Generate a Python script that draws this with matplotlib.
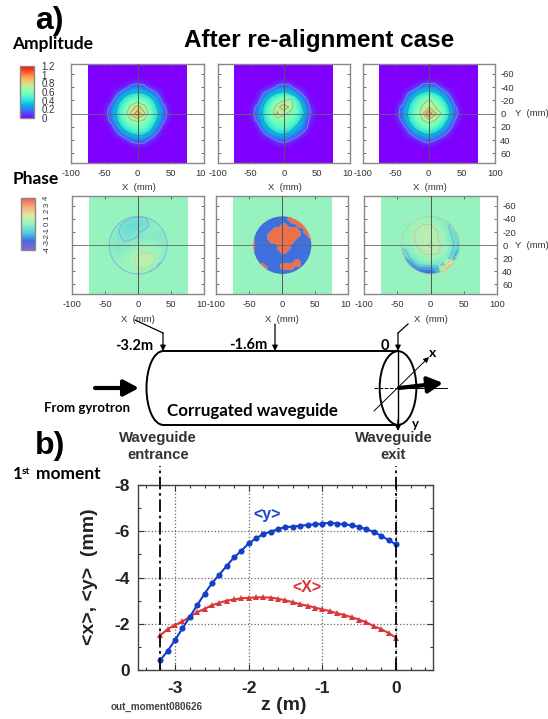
import numpy as np
import matplotlib
matplotlib.use("Agg")
import matplotlib.pyplot as plt
from matplotlib.colors import LinearSegmentedColormap
from matplotlib.patches import Arc, Circle, Ellipse, Rectangle
from matplotlib.transforms import ScaledTranslation

plt.rcParams["axes.unicode_minus"] = False

W, H = 548, 719

# bottom plot: first moments along the waveguide
z = [-3.2, -3.1, -3.0, -2.9, -2.8, -2.7, -2.6, -2.5, -2.4, -2.3, -2.2, -2.1, -2.0, -1.9, -1.8, -1.7, -1.6,
     -1.5, -1.4, -1.3, -1.2, -1.1, -1.0, -0.9, -0.8, -0.7, -0.6, -0.5, -0.4, -0.3, -0.2, -0.1, 0.0]
mom_y = [-0.43, -0.83, -1.3, -1.8, -2.3, -2.8, -3.3, -3.75, -4.12, -4.5, -4.87, -5.15, -5.48, -5.69, -5.88, -5.98, -6.1,
         -6.18, -6.2, -6.24, -6.27, -6.3, -6.33, -6.37, -6.33, -6.3, -6.25, -6.2, -6.08, -5.98, -5.8, -5.62, -5.43]
mom_x = [-1.5, -1.77, -1.95, -2.1, -2.3, -2.5, -2.64, -2.8, -2.9, -3.0, -3.05, -3.1, -3.12, -3.14, -3.14, -3.13, -3.08,
         -3.01, -2.93, -2.84, -2.78, -2.7, -2.62, -2.55, -2.45, -2.38, -2.28, -2.18, -2.06, -1.89, -1.77, -1.6, -1.4]

# amplitude maps, rows y=-50..50, columns x=-50..50 (mm)
grid_xy = [-50, -40, -30, -20, -10, 0, 10, 20, 30, 40, 50]
amp1 = [[0, 0, 0, 0, 0, 0, 0, 0, 0, 0, 0],
        [0, 0, 0, 0, .15, .2, .15, 0, 0, 0, 0],
        [0, 0, .1, .3, .38, .42, .38, .3, .1, 0, 0],
        [0, 0, .3, .45, .57, .6, .57, .45, .28, 0, 0],
        [0, .15, .38, .55, .7, .8, .7, .55, .36, .13, 0],
        [0, .2, .42, .58, .78, .98, .78, .58, .42, .18, 0],
        [0, .15, .38, .55, .65, .68, .65, .55, .36, .12, 0],
        [0, 0, .28, .45, .55, .58, .58, .45, .25, 0, 0],
        [0, 0, .08, .28, .38, .45, .42, .3, .08, 0, 0],
        [0, 0, 0, 0, .14, .2, .18, .05, 0, 0, 0],
        [0, 0, 0, 0, 0, 0, 0, 0, 0, 0, 0]]
amp2 = [[0, 0, 0, 0, 0, 0, 0, 0, 0, 0, 0],
        [0, 0, 0, 0, .14, .2, .14, 0, 0, 0, 0],
        [0, 0, .12, .3, .4, .45, .38, .25, .05, 0, 0],
        [0, 0, .3, .47, .58, .65, .72, .48, .22, 0, 0],
        [0, .15, .4, .56, .72, .85, .72, .56, .34, .08, 0],
        [0, .2, .42, .58, .78, .68, .62, .56, .4, .1, 0],
        [0, .14, .38, .54, .6, .6, .58, .52, .24, .06, 0],
        [0, 0, .28, .44, .52, .55, .5, .32, .25, 0, 0],
        [0, 0, .08, .26, .38, .4, .32, .22, .05, 0, 0],
        [0, 0, 0, 0, .12, .16, .1, 0, 0, 0, 0],
        [0, 0, 0, 0, 0, 0, 0, 0, 0, 0, 0]]
amp3 = [[0, 0, 0, 0, 0, 0, 0, 0, 0, 0, 0],
        [0, 0, 0, .02, .18, .25, .2, .03, 0, 0, 0],
        [0, 0, .12, .32, .42, .46, .42, .3, .1, 0, 0],
        [0, 0, .3, .47, .58, .68, .62, .48, .28, 0, 0],
        [0, .15, .38, .55, .68, .74, .66, .6, .38, .12, 0],
        [0, .2, .42, .58, .7, 1.02, .78, .65, .42, .18, 0],
        [0, .14, .38, .55, .65, .72, .66, .55, .34, .1, 0],
        [0, 0, .26, .44, .56, .58, .54, .42, .22, 0, 0],
        [0, 0, .06, .26, .36, .42, .36, .22, .05, 0, 0],
        [0, 0, 0, 0, .12, .17, .1, 0, 0, 0, 0],
        [0, 0, 0, 0, 0, 0, 0, 0, 0, 0, 0]]

# phase maps
ph1 = [[0, 0, 0, 0, 0, 0, 0, 0, 0, 0, 0],
       [0, 0, 0, -.1, -.5, -.6, -.6, -.1, 0, 0, 0],
       [0, 0, -.2, -.9, -1, -1, -.9, -.2, -.2, 0, 0],
       [0, -.1, -.4, -.9, -.8, -.5, -.2, -.1, -.3, -.2, 0],
       [0, -.2, -.4, -.5, -.5, -.4, -.3, -.4, -.4, -.3, 0],
       [0, -.3, -.4, -.4, -.1, 0, .1, .1, -.1, -.3, 0],
       [0, -.2, -.4, -.2, .1, .4, .5, .4, .1, -.3, 0],
       [0, 0, -.1, .1, .3, .7, .9, .8, .3, -.3, 0],
       [0, 0, 0, .1, .3, .7, .9, .6, -.5, -.8, 0],
       [0, 0, 0, 0, .1, .3, .3, -.6, -.3, 0, 0],
       [0, 0, 0, 0, 0, 0, 0, 0, 0, 0, 0]]
ph3 = [[0, 0, 0, 0, 0, 0, 0, 0, 0, 0, 0],
       [0, 0, 0, 0, .2, 0, -.5, -.3, 0, 0, 0],
       [0, 0, 0, .3, .5, .5, .2, -.3, -.7, -.9, 0],
       [0, 0, .2, .6, .7, .7, .5, .1, -.6, -1, -1],
       [0, 0, .2, .6, .7, .6, .5, .2, -.4, -1, -1.2],
       [0, .1, .1, .5, .7, .3, .7, .2, -.3, -.9, -1.3],
       [-1, -1, -.1, .2, .6, .7, .6, .2, -.2, -1.5, -2],
       [-2, -1.5, -.4, -.1, .1, .2, .1, -.2, -.8, -2.5, 3],
       [-3, -3, -2.5, -.6, -.2, -.2, -.4, -.8, 3, 3.5, 3.5],
       [-3, -3, -3, -3, -3, -3, -2.5, 3, 3.5, 3.5, 3.5],
       [-3, -3, -3, -3, -3, -3, -3, 3, 3.5, 3.5, 3.5]]

# middle phase map is two-valued (blue / orange), rows y=-45..45, columns x=-45..45
grid_fine = list(range(-45, 50, 5))
ph2_rows = ["...................",
            "...........###.....",
            "............####...",
            ".........##...###..",
            ".......#######..##.",
            "......#########.##.",
            ".....##########..##",
            "#....#########....#",
            "#.....#######......",
            "#.......####.......",
            "#.......####.......",
            "#........##........",
            "...................",
            "...................",
            ".............##....",
            "..##.....######....",
            "...##....####......",
            "...................",
            "..................."]
ph2 = [[3 if c == "#" else -3 for c in row] for row in ph2_rows]

amp_ticks = [0, 0.2, 0.4, 0.6, 0.8, 1, 1.2]
amp_labels = ["0", "0.2", "0.4", "0.6", "0.8", "1", "1.2"]
ph_ticks = [-4, -3, -2, -1, 0, 1, 2, 3, 4]
x_labels_cut = ["-100", "-50", "0", "50", "10"]
x_labels_full = ["-100", "-50", "0", "50", "100"]

phase_cmap = LinearSegmentedColormap.from_list(
    "phase", ["#8a62d8", "#3f6fe0", "#55cfe0", "#95f3bf", "#dceba0", "#f8a878", "#ee6048"])
ORANGE = "#ee7048"
BLUE = "#3f70dd"
sans = ["Liberation Sans", "DejaVu Sans"]
lato = ["Lato", "DejaVu Sans"]

fig = plt.figure(figsize=(W / 100, H / 100), dpi=100)


def axes_px(left, top, right, bottom):
    return fig.add_axes([left / W, 1 - bottom / H, (right - left) / W, (bottom - top) / H])


def style_panel(ax, labels, right_labels=False):
    ax.set_xlim(-100, 100)
    ax.set_ylim(75, -75)
    ax.set_xticks([-100, -50, 0, 50, 100], labels)
    ax.set_yticks([-60, -40, -20, 0, 20, 40, 60])
    ax.tick_params(direction="in", length=2.5, width=0.6, color="#555555", top=True, right=True,
                   labelleft=False, labelright=right_labels, labelsize=6.8, labelcolor="#333333", pad=4)
    for lab in ax.get_xticklabels() + ax.get_yticklabels():
        lab.set_family(sans)
    # the last label is cut off by the next panel in the original
    if labels[-1] == "10":
        last = ax.get_xticklabels()[-1]
        last.set_ha("right")
        last.set_transform(last.get_transform() + ScaledTranslation(0.025, 0, fig.dpi_scale_trans))
    for sp in ax.spines.values():
        sp.set_color("#888888")
        sp.set_linewidth(1.0)
    ax.axhline(0, color="#666666", lw=0.6, zorder=5)
    ax.axvline(0, color="#555555", lw=0.7, zorder=5)


# amplitude row
amp_boxes = [(71.3, 64, 203.7, 163.3), (217.7, 64, 350, 163.3), (362.7, 64, 494.7, 163.3)]
amp_labels_x = [x_labels_cut, x_labels_cut, x_labels_full]
im_amp = None
for box, data, labs, i in zip(amp_boxes, [amp1, amp2, amp3], amp_labels_x, range(3)):
    ax = axes_px(*box)
    ax.add_patch(Rectangle((-75, -75), 150, 150, color=plt.cm.rainbow(0.0), lw=0, zorder=0))
    im_amp = ax.imshow(data, cmap="rainbow", vmin=0, vmax=1.2, extent=(-55, 55, 55, -55),
                       interpolation="bicubic", zorder=1)
    ax.contour(grid_xy, grid_xy, data, levels=[0.1, 0.36, 0.66, 0.76, 0.9],
               colors=["#9088c8", "#2f8f95", "#a8a890", "#b09070", "#b07040"], linewidths=0.6, zorder=2)
    ax.set_aspect("auto")
    style_panel(ax, labs, right_labels=(i == 2))

# phase row
ph_boxes = [(72.3, 196, 204, 294.3), (216.3, 196, 348.3, 294.3), (364.3, 196, 496.7, 294.3)]
for i, box in enumerate(ph_boxes):
    ax = axes_px(*box)
    ax.add_patch(Rectangle((-75, -75), 150, 150, color=phase_cmap(0.5), lw=0, zorder=0))
    disc = Circle((0, 0), 44, transform=ax.transData)
    if i == 1:
        art = ax.contourf(grid_fine, grid_fine, ph2, levels=[-5, 0, 5], colors=[BLUE, ORANGE], zorder=1)
        art.set_clip_path(disc)
        ax.contour(grid_fine, grid_fine, ph2, levels=[0], colors=["#6f93d8"], linewidths=0.4, zorder=2).set_clip_path(disc)
    else:
        data = ph1 if i == 0 else ph3
        im = ax.imshow(data, cmap=phase_cmap, vmin=-4, vmax=4, extent=(-55, 55, 55, -55),
                       interpolation="bicubic", zorder=1)
        im.set_clip_path(disc)
        if i == 0:
            cs = ax.contour(grid_xy, grid_xy, data, levels=[-0.45, 0.5], colors=["#7fa8e0", "#b0e098"],
                            linewidths=0.6, zorder=2)
            edge = "#7fa8e0"
        else:
            cs = ax.contour(grid_xy, grid_xy, data, levels=[-1.5, -0.6, 0.45], colors=["#4a88c8", "#60b0b8", "#d0b888"],
                            linewidths=0.5, zorder=2)
            edge = "#c0c8a8"
        cs.set_clip_path(disc)
        ax.add_patch(Circle((0, 0), 44, fill=False, ec=edge, lw=0.6, zorder=3))
    ax.set_aspect("auto")
    style_panel(ax, x_labels_cut if i < 2 else x_labels_full, right_labels=(i == 2))

# colour bars
cax = axes_px(19.5, 66, 34.5, 118)
cb = fig.colorbar(im_amp, cax=cax, ticks=amp_ticks)
cb.ax.set_yticklabels(amp_labels, family=sans, fontsize=7, color="#333333")
cb.ax.tick_params(length=0, pad=5)
cb.outline.set_edgecolor("#888888")
cb.outline.set_linewidth(1.0)

cax2 = axes_px(20.5, 198, 35, 249.5)
sm = plt.cm.ScalarMappable(norm=plt.Normalize(-4, 4), cmap=phase_cmap)
cb2 = fig.colorbar(sm, cax=cax2, ticks=ph_ticks)
cb2.ax.set_yticklabels([str(t) for t in ph_ticks], family=sans, fontsize=5.6, color="#333333", rotation=90, va="center")
cb2.ax.tick_params(length=0, pad=6)
cb2.outline.set_edgecolor("#888888")
cb2.outline.set_linewidth(1.0)

# moment plot
ax = axes_px(138.3, 485, 432.7, 670)
ax.set_xlim(-3.5, 0.5)
ax.set_ylim(0, -8)
ax.set_xticks([-3, -2, -1, 0], ["-3", "-2", "-1", "0"])
ax.set_xticks(np.arange(-3.4, 0.5, 0.2), minor=True)
ax.set_yticks([0, -2, -4, -6, -8], ["0", "-2", "-4", "-6", "-8"])
ax.set_yticks([-1, -3, -5, -7], minor=True)
ax.grid(True, which="major", color="#666666", linestyle=":", linewidth=0.9)
ax.tick_params(which="both", direction="in", top=True, right=True, color="#333333", width=0.8, length=4)
ax.tick_params(which="minor", length=2.5)
ax.tick_params(axis="x", which="major", pad=8)
ax.tick_params(axis="y", which="major", pad=6)
for lab in ax.get_xticklabels() + ax.get_yticklabels():
    lab.set_family(sans)
    lab.set_fontweight("bold")
    lab.set_fontsize(12.5)
    lab.set_color("#222222")
for sp in ax.spines.values():
    sp.set_color("#444444")
    sp.set_linewidth(1.0)
ax.axvline(-3.2, ymax=1.105, color="black", lw=1.3, ls=(0, (7, 2, 1.5, 2)), clip_on=False, zorder=4)
ax.axvline(0, ymax=1.105, color="black", lw=1.3, ls=(0, (7, 2, 1.5, 2)), clip_on=False, zorder=4)
ax.plot(z, mom_x, color="#d8383a", lw=1.5, marker="^", ms=4.6, mew=0, zorder=3)
ax.plot(z, mom_y, color="#1440c8", lw=1.5, marker="o", ms=4.4, mew=0, zorder=3)

# overlay in pixel coordinates: headings, labels and the waveguide sketch
ov = fig.add_axes([0, 0, 1, 1], facecolor="none")
ov.set_xlim(0, W)
ov.set_ylim(H, 0)
ov.axis("off")


def txt(x, y, s, size, family=sans, weight="bold", color="black", ha="center", **kw):
    ov.text(x, y, s, fontsize=size, family=family, fontweight=weight, color=color, ha=ha, va="center", **kw)


txt(49, 21, "a)", 23)
txt(50, 446, "b)", 23)
txt(319, 41, "After re-alignment case", 17.5)
txt(53, 44, "Amplitude", 12.5, lato)
txt(36, 179, "Phase", 12.5, lato)
txt(13, 474, "1", 12, lato, ha="left")
txt(22, 471, "st", 7.5, lato, ha="left")
txt(36, 474, "moment", 12.5, lato, ha="left")

for cx in [137.5, 283.8, 428.7]:
    txt(cx + 1, 188, "X  (mm)", 6.8, weight="normal", color="#333333")
for cx in [138, 282.3, 430.5]:
    txt(cx, 319, "X  (mm)", 6.8, weight="normal", color="#333333")
txt(515, 113.5, "Y  (mm)", 6.8, weight="normal", color="#333333", ha="left")
txt(515, 245.5, "Y  (mm)", 6.8, weight="normal", color="#333333", ha="left")

# waveguide tube
ov.plot([163, 398], [351.3, 351.3], color="black", lw=1.4)
ov.plot([163, 398], [425, 425], color="black", lw=1.4)
ov.add_patch(Arc((163, 388), 33, 73.7, theta1=90, theta2=270, color="black", lw=1.4))
ov.add_patch(Ellipse((398, 388), 36.7, 73.7, fill=False, ec="black", lw=1.4))
ov.plot([374, 398], [388, 388], color="black", lw=0.7, ls="--")
ov.plot([398, 447], [388, 388], color="black", lw=0.7)
ov.plot([398, 398], [351, 425], color="black", lw=1.0)


def arrow(x0, y0, x1, y1, lw=0.9, style="-|>", scale=8):
    ov.annotate("", xy=(x1, y1), xytext=(x0, y0),
                arrowprops=dict(arrowstyle=style, color="black", lw=lw, mutation_scale=scale, shrinkA=0, shrinkB=0))


ov.plot([135, 163], [320, 333], color="black", lw=0.9)
arrow(163, 333, 163, 351)
arrow(275, 324, 275, 351)
ov.plot([408, 398], [324, 333], color="black", lw=0.9)
arrow(398, 333, 398, 351)
arrow(374, 411, 429, 357, lw=0.7)
arrow(398, 420, 398, 431, lw=1.0)
arrow(95, 388, 139, 388, lw=3.0, style="-|>,head_length=0.6,head_width=0.32", scale=15)
arrow(399, 388, 443, 383, lw=3.0, style="-|>,head_length=0.6,head_width=0.32", scale=15)

txt(134.5, 346.5, "-3.2m", 10.5, lato)
txt(248, 345, "-1.6m", 10.5, lato)
txt(385, 346.5, "0", 10.5, lato)
txt(433, 353, "x", 10, lato)
txt(415, 424, "y", 9.5, lato)
txt(86.5, 408, "From gyrotron", 9.5, lato)
txt(252.5, 411, "Corrugated waveguide", 12.2, lato)

# labels around the moment plot
wg = "#333333"
txt(157.7, 438, "Waveguide", 10.7, color=wg)
txt(157.7, 455, "entrance", 10.7, color=wg)
txt(393.5, 438, "Waveguide", 10.7, color=wg)
txt(393.5, 455, "exit", 10.7, color=wg)
txt(267, 515, "<y>", 11.5, color="#1a48c8")
txt(307, 587.5, "<X>", 11.5, color="#d8383a")
txt(89, 577, "<x>, <y>  (mm)", 14, color="#222222", rotation=90)
txt(284, 706, "z (m)", 14, color="#222222")
txt(156.5, 706.5, "out_moment080626", 7.1, color="#444444")

fig.savefig("out.png", dpi=100)
